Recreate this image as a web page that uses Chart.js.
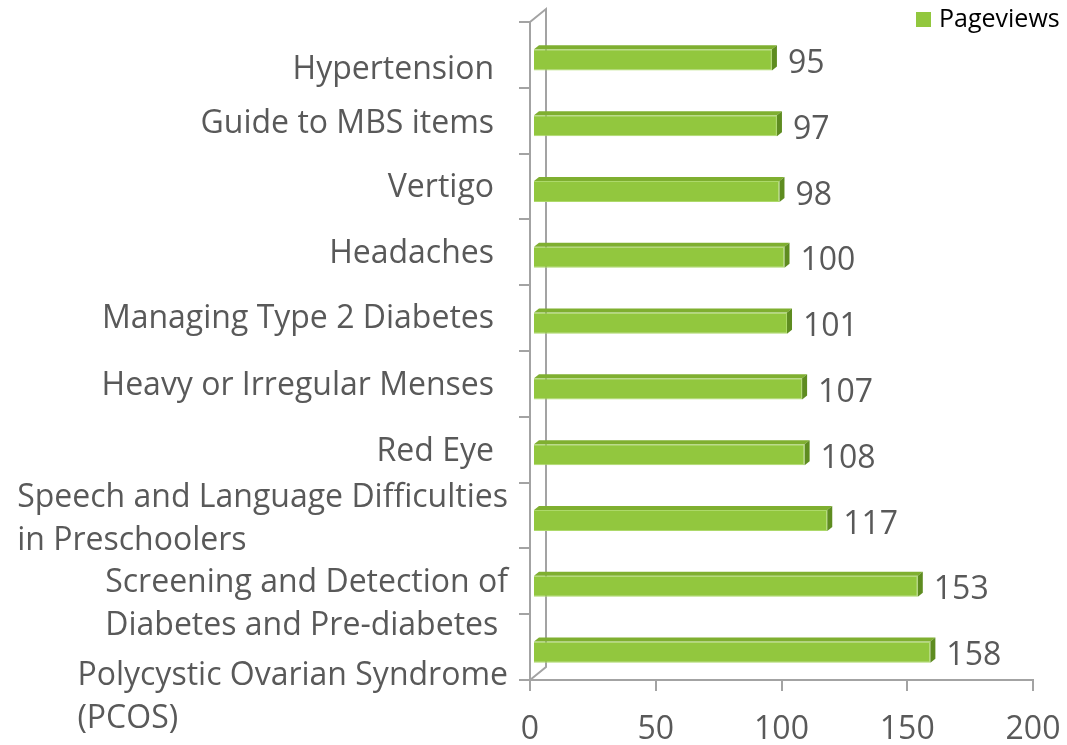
<!DOCTYPE html>
<html><head><meta charset="utf-8">
<script src="https://cdn.jsdelivr.net/npm/chart.js@4/dist/chart.umd.min.js"></script>
<style>html,body{margin:0;padding:0;background:#fff;}canvas{display:block;}</style>
</head><body>
<canvas id="c" width="1067" height="745"></canvas>
<script>
// ---- data ----
const categories = [
  ["Hypertension"],
  ["Guide to MBS items"],
  ["Vertigo"],
  ["Headaches"],
  ["Managing Type 2 Diabetes"],
  ["Heavy or Irregular Menses"],
  ["Red Eye"],
  ["Speech and Language Difficulties", "in Preschoolers"],
  ["Screening and Detection of", "Diabetes and Pre-diabetes"],
  ["Polycystic Ovarian Syndrome", "(PCOS)"]
];
const pageviews = [95, 97, 98, 100, 101, 107, 108, 117, 153, 158];
const xTicks = [0, 50, 100, 150, 200];
const seriesName = "Pageviews";

// ---- style ----
const FAMILY = '"Open Sans", sans-serif';
const GRAY = '#595959';
const AXIS = '#A3A3A3';
const GREEN = '#92C73E';
const labelShift = [15, 3, 1, 2, 1, 2, 2, 4, 23, 50];
const depth = { dx: 5, dy: 4 };
const barShift = { x: 3, y: 5 };

const threeD = {
  id: 'threeD',
  beforeDatasetsDraw(chart) {
    const { ctx, chartArea: a } = chart;
    ctx.save();
    ctx.strokeStyle = AXIS; ctx.lineWidth = 2;
    ctx.beginPath();
    ctx.moveTo(a.left, a.top);
    ctx.lineTo(a.left + 16, a.top - 13);
    ctx.lineTo(a.left + 16, a.bottom - 13);
    ctx.lineTo(a.left, a.bottom);
    ctx.stroke();
    ctx.restore();
    ctx.save();
    ctx.translate(barShift.x, barShift.y);
  },
  afterDatasetsDraw(chart) {
    const ctx = chart.ctx;
    const meta = chart.getDatasetMeta(0);
    meta.data.forEach((bar, i) => {
      const p = bar.getProps(['x', 'y', 'base', 'height'], true);
      const top = p.y - p.height / 2, bot = p.y + p.height / 2;
      ctx.fillStyle = '#7FAF30';
      ctx.beginPath();
      ctx.moveTo(p.base, top); ctx.lineTo(p.base + depth.dx, top - depth.dy);
      ctx.lineTo(p.x + depth.dx, top - depth.dy); ctx.lineTo(p.x, top);
      ctx.closePath(); ctx.fill();
      ctx.fillStyle = '#5E8C20';
      ctx.beginPath();
      ctx.moveTo(p.x, top); ctx.lineTo(p.x + depth.dx, top - depth.dy);
      ctx.lineTo(p.x + depth.dx, bot - depth.dy); ctx.lineTo(p.x, bot);
      ctx.closePath(); ctx.fill();
      ctx.fillStyle = GRAY;
      ctx.font = '32px ' + FAMILY;
      ctx.textAlign = 'left'; ctx.textBaseline = 'middle';
      ctx.fillText(String(pageviews[i]), p.x + 16, p.y + 4);
    });
    ctx.restore();
  },
  afterDraw(chart) {
    const { ctx, chartArea: a } = chart;
    const ys = chart.scales.y;
    ctx.save();
    ctx.font = '32px ' + FAMILY;
    ctx.fillStyle = GRAY;
    ctx.textBaseline = 'middle'; ctx.textAlign = 'left';
    categories.forEach((lines, i) => {
      const cy = ys.getPixelForValue(i) + labelShift[i];
      const w = Math.max(...lines.map(l => ctx.measureText(l).width));
      const right = lines.length > 1 ? a.left - 22 : a.left - 36;
      const lh = 43;
      lines.forEach((l, j) => {
        ctx.fillText(l, right - w, cy + (j - (lines.length - 1) / 2) * lh);
      });
    });
    // legend
    ctx.fillStyle = GREEN;
    ctx.fillRect(916, 12, 15, 15);
    ctx.fillStyle = '#000';
    ctx.font = '25px ' + FAMILY;
    ctx.fillText(seriesName, 939, 20);
    ctx.restore();
  }
};

new Chart(document.getElementById('c'), {
  type: 'bar',
  data: {
    labels: categories,
    datasets: [{
      label: seriesName,
      data: pageviews,
      backgroundColor: GREEN,
      borderColor: '#ADD96A',
      borderWidth: 1,
      barPercentage: 0.32,
      categoryPercentage: 1
    }]
  },
  options: {
    indexAxis: 'y',
    responsive: false,
    animation: false,
    devicePixelRatio: 1,
    layout: { padding: { top: 22, right: 0, left: 0, bottom: 0 } },
    plugins: { legend: { display: false }, tooltip: { enabled: false } },
    scales: {
      x: {
        min: 0, max: 200,
        afterBuildTicks(s) { s.ticks = xTicks.map(v => ({ value: v })); },
        grid: { drawOnChartArea: false, tickLength: 11, color: AXIS, lineWidth: 2 },
        border: { color: AXIS, width: 2 },
        ticks: { font: { family: FAMILY, size: 32 }, color: GRAY, padding: 20, maxRotation: 0 },
        afterFit(s) { s.height = 65; s.paddingRight = 34; s.paddingLeft = 0; }
      },
      y: {
        grid: { drawOnChartArea: false, tickLength: 11, color: AXIS, lineWidth: 2, offset: true },
        border: { color: AXIS, width: 2 },
        ticks: { display: false },
        afterFit(s) { s.width = 530; }
      }
    }
  },
  plugins: [threeD]
});
</script>
</body></html>
